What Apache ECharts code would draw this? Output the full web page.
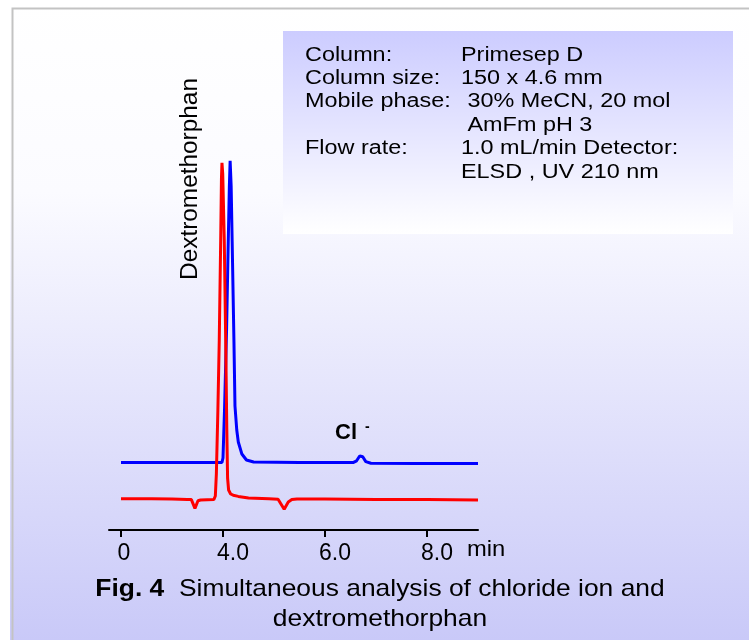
<!DOCTYPE html>
<html>
<head>
<meta charset="utf-8">
<script src="https://cdn.jsdelivr.net/npm/echarts@6/dist/echarts.min.js"></script>
<style>
html,body{margin:0;padding:0;background:#fff;}
#chart{width:749px;height:640px;}
</style>
</head>
<body>
<div id="chart"></div>
<script>
// Retention times (min) and detector signal (arbitrary units)
const blueTime   = [2.0, 3.0, 3.98, 4.0, 4.03, 4.07, 4.10, 4.125, 4.14, 4.16, 4.18, 4.215, 4.235, 4.27, 4.30, 4.37, 4.46, 4.6, 5.5, 6.55, 6.62, 6.68, 6.71, 6.74, 6.8, 6.9, 7.8, 9.0];
const blueSignal = [16.9, 16.9, 16.9, 18, 30, 50, 70, 86, 92.3, 86, 72, 47, 31, 25, 22, 19, 17.5, 17, 16.9, 16.85, 17.3, 18.5, 18.8, 18.3, 17.1, 16.7, 16.65, 16.6];

const redTime   = [2.0, 2.6, 3.0, 3.3, 3.38, 3.45, 3.51, 3.56, 3.82, 3.85, 3.87, 3.90, 3.927, 3.955, 3.97, 3.98, 3.995, 4.025, 4.053, 4.075, 4.09, 4.11, 4.15, 4.2, 4.3, 4.5, 4.9, 5.08, 5.2, 5.28, 5.35, 5.45, 6.0, 7.0, 8.0, 9.0];
const redSignal = [7.8, 7.8, 7.75, 7.65, 7.6, 5.4, 7.3, 7.5, 7.6, 8.5, 14, 30, 47.5, 72.5, 88, 91.8, 89, 72.5, 47.5, 25, 13, 10, 9, 8.7, 8.4, 8.0, 7.8, 7.7, 5.2, 7.0, 7.6, 7.75, 7.75, 7.6, 7.6, 7.5];

const tickValues = [2, 4, 6, 8];
const tickLabels = ['0', '4.0', '6.0', '8.0'];

const infoKeys   = ['Column:', 'Column size:', 'Mobile phase:', '', 'Flow rate:', ''];
const infoValues = ['Primesep D', '150 x 4.6 mm', ' 30% MeCN, 20 mol', ' AmFm pH 3', '1.0 mL/min Detector:', 'ELSD , UV 210 nm'];

const zip = (a, b) => a.map((t, i) => [t, b[i]]);
const FONT = "'Liberation Sans', Arial, sans-serif";

const chart = echarts.init(document.getElementById('chart'), null, {renderer: 'canvas'});

const infoGraphics = [];
infoKeys.forEach((k, i) => {
  const y = 45 + i * 23.4;
  if (k) infoGraphics.push({type: 'text', x: 305, y: y, scaleX: 1.17, z: 10,
    style: {text: k, font: '20px ' + FONT, fill: '#000'}});
  infoGraphics.push({type: 'text', x: 461, y: y, scaleX: 1.17, z: 10,
    style: {text: infoValues[i], font: '20px ' + FONT, fill: '#000'}});
});

chart.setOption({
  animation: false,
  backgroundColor: '#ffffff',
  grid: {left: 109, right: 271, top: 130, bottom: 110},
  xAxis: {
    type: 'value', min: 1.765, max: 9.0,
    axisLine: {show: true, onZero: false, lineStyle: {color: '#000', width: 2}},
    axisTick: {show: true, customValues: tickValues, length: 7, lineStyle: {color: '#000', width: 2}},
    axisLabel: {show: true, customValues: tickValues, margin: 12, color: '#000',
      fontFamily: FONT, fontSize: 23,
      formatter: v => {
        const i = tickValues.indexOf(v);
        if (i < 0) return '';
        return (i === 0 ? '{f|' : '{n|') + tickLabels[i] + '}';
      },
      rich: {
        f: {fontFamily: FONT, fontSize: 23, color: '#000', padding: [0, 0, 0, 6]},
        n: {fontFamily: FONT, fontSize: 23, color: '#000', padding: [0, 0, 0, 20]}
      }},
    splitLine: {show: false}
  },
  yAxis: {type: 'value', min: 0, max: 100, show: false},
  graphic: [
    {type: 'rect', left: 0, top: 0, z: -20, silent: true,
      shape: {width: 749, height: 640},
      style: {fill: new echarts.graphic.LinearGradient(0, 0, 0, 1, [
        {offset: 0, color: '#ffffff'}, {offset: 0.3, color: '#fbfbff'}, {offset: 1, color: '#c9c9f8'}])}},
    {type: 'rect', left: 0, top: 0, z: -19, silent: true, shape: {width: 749, height: 6}, style: {fill: '#fff'}},
    {type: 'rect', left: 0, top: 0, z: -19, silent: true, shape: {width: 10, height: 640}, style: {fill: '#fff'}},
    {type: 'rect', left: 10, top: 6, z: -18, silent: true,
      shape: {x: 0, y: 0, width: 780, height: 680},
      style: {fill: 'none', stroke: '#c3c3c3', lineWidth: 2}},
    {type: 'rect', left: 283, top: 31, z: 5, silent: true,
      shape: {width: 450, height: 203},
      style: {fill: new echarts.graphic.LinearGradient(0, 0, 0, 1, [
        {offset: 0, color: '#ccccff'}, {offset: 1, color: '#ffffff'}])}},
    ...infoGraphics,
    {type: 'text', x: 191, y: 179, rotation: Math.PI / 2, scaleX: 1.06, z: 10,
      style: {text: 'Dextromethorphan', font: '23px ' + FONT, fill: '#000', textAlign: 'center', textVerticalAlign: 'middle'}},
    {type: 'text', left: 335, top: 422, z: 10,
      style: {text: 'Cl', font: 'bold 22px ' + FONT, fill: '#000'}},
    {type: 'text', left: 365, top: 420, z: 10,
      style: {text: '-', font: 'bold 14px ' + FONT, fill: '#000'}},
    {type: 'text', x: 467, y: 539, scaleX: 1.08, z: 10,
      style: {text: 'min', font: '22px ' + FONT, fill: '#000'}},
    {type: 'text', x: 380, y: 574, scaleX: 1.1, z: 10,
      style: {
        text: '{b|Fig. 4}  Simultaneous analysis of chloride ion and\ndextromethorphan',
        font: '24px ' + FONT, fill: '#000', align: 'center', lineHeight: 30,
        rich: {b: {fontWeight: 'bold', fontSize: 24, fontFamily: FONT, lineHeight: 30}}
      }}
  ],
  series: [
    {type: 'line', name: 'UV', data: zip(blueTime, blueSignal), showSymbol: false, symbol: 'none',
      lineStyle: {color: '#0000ff', width: 3}, smooth: false, z: 3},
    {type: 'line', name: 'ELSD', data: zip(redTime, redSignal), showSymbol: false, symbol: 'none',
      lineStyle: {color: '#ff0000', width: 3}, smooth: false, z: 4}
  ]
});
</script>
</body>
</html>
